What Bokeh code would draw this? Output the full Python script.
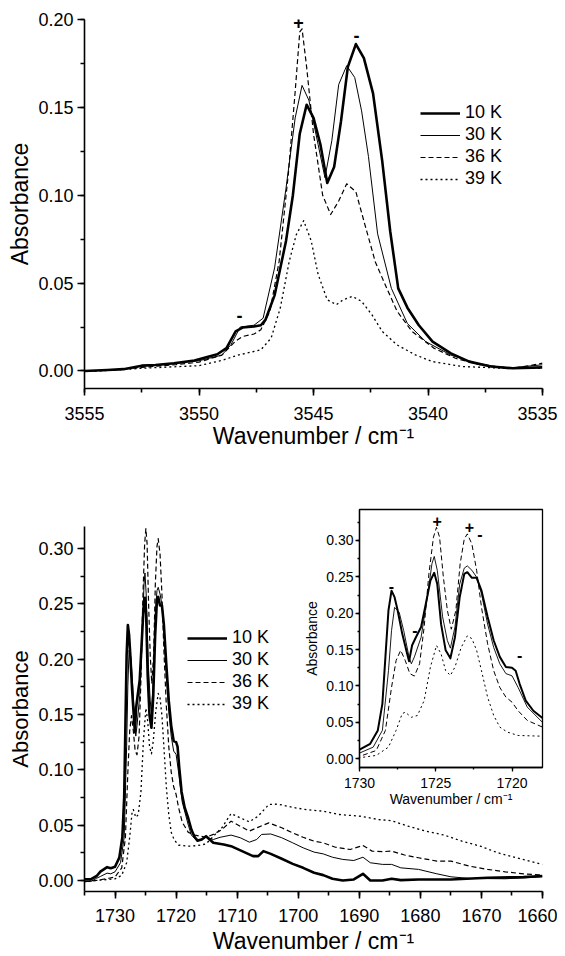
from bokeh.plotting import figure
from bokeh.models import (Range1d, SingleIntervalTicker, PrintfTickFormatter,
                          Legend, LegendItem, ColumnDataSource)
from bokeh.layouts import column
from bokeh.embed import file_html
from bokeh.resources import INLINE
from bokeh.core.properties import value

FONT = "Liberation Sans"

# ---------------- data: O-H stretch region (top panel) ----------------
top_wn_10K = [3555.0, 3554.0, 3553.3, 3552.5, 3551.9, 3551.1, 3550.2, 3549.2, 3548.8, 3548.4,
              3548.1, 3547.6, 3547.3, 3547.1, 3546.7, 3546.2, 3545.9, 3545.6, 3545.3, 3545.0,
              3544.7, 3544.4, 3544.1, 3543.8, 3543.5, 3543.15, 3542.8, 3542.4, 3542.0, 3541.65,
              3541.3, 3540.9, 3540.4, 3539.8, 3539.0, 3538.2, 3537.25, 3536.3, 3535.0]
top_abs_10K = [0.0000, 0.0005, 0.0010, 0.0030, 0.0034, 0.0044, 0.0059, 0.0095, 0.0130, 0.0225,
               0.0247, 0.0253, 0.0260, 0.0290, 0.0430, 0.0740, 0.1000, 0.1350, 0.1515, 0.1440,
               0.1290, 0.1070, 0.1160, 0.1420, 0.1730, 0.1860, 0.1780, 0.1580, 0.1195, 0.0795,
               0.0470, 0.0360, 0.0260, 0.0167, 0.0100, 0.0053, 0.0025, 0.0015, 0.0020]

top_wn_30K = [3555.0, 3554.0, 3553.3, 3552.5, 3551.5, 3550.0, 3549.0, 3548.6, 3548.2, 3547.6,
              3547.2, 3546.7, 3546.2, 3545.8, 3545.5, 3545.2, 3544.8, 3544.5, 3544.2, 3543.9,
              3543.55, 3543.2, 3542.9, 3542.6, 3542.2, 3541.6, 3540.9, 3540.1, 3539.0, 3537.9,
              3536.6, 3535.0]
top_abs_30K = [0.0000, 0.0004, 0.0009, 0.0028, 0.0036, 0.0058, 0.0090, 0.0150, 0.0250, 0.0260,
               0.0300, 0.0586, 0.1040, 0.1440, 0.1625, 0.1540, 0.1290, 0.1100, 0.1310, 0.1630,
               0.1737, 0.1670, 0.1480, 0.1220, 0.0780, 0.0470, 0.0270, 0.0167, 0.0090, 0.0044,
               0.0015, 0.0035]

top_wn_36K = [3555.0, 3554.0, 3552.5, 3551.0, 3550.0, 3549.0, 3548.4, 3548.1, 3547.6, 3547.3,
              3546.9, 3546.5, 3546.1, 3545.8, 3545.6, 3545.5, 3545.3, 3545.0, 3544.6, 3544.25,
              3543.9, 3543.55, 3543.15, 3542.75, 3542.3, 3541.8, 3541.35, 3540.7, 3539.75, 3538.8,
              3537.7, 3536.3, 3535.4, 3535.0]
top_abs_36K = [0.0000, 0.0003, 0.0020, 0.0036, 0.0050, 0.0090, 0.0170, 0.0196, 0.0210, 0.0234,
               0.0340, 0.0624, 0.1120, 0.1590, 0.1930, 0.1947, 0.1730, 0.1350, 0.1000, 0.0890,
               0.0967, 0.1065, 0.1020, 0.0830, 0.0620, 0.0470, 0.0340, 0.0225, 0.0130, 0.0072,
               0.0034, 0.0015, 0.0034, 0.0044]

top_wn_39K = [3555.0, 3554.0, 3552.5, 3551.0, 3550.0, 3549.0, 3548.3, 3547.3, 3546.85, 3546.45,
              3546.06, 3545.75, 3545.43, 3545.1, 3544.8, 3544.4, 3544.0, 3543.7, 3543.3, 3542.9,
              3542.45, 3542.0, 3541.35, 3540.55, 3539.8, 3538.5, 3536.6, 3535.0]
top_abs_39K = [-0.0003, 0.0002, 0.0015, 0.0024, 0.0030, 0.0060, 0.0090, 0.0120, 0.0187, 0.0358,
               0.0624, 0.0776, 0.0855, 0.0740, 0.0550, 0.0405, 0.0377, 0.0405, 0.0424, 0.0396,
               0.0320, 0.0225, 0.0148, 0.0091, 0.0053, 0.0025, 0.0015, 0.0015]

top_mark_wn = [3545.65, 3543.12, 3548.23]
top_mark_abs = [0.1985, 0.1910, 0.0314]
top_mark_text = ["+", "-", "-"]

# ---------------- data: C=O stretch region (bottom panel + inset) ----------------
bot_wn_10K = [1735.0, 1734.0, 1733.0, 1732.4, 1731.3, 1730.7, 1730.0, 1729.3, 1728.8, 1728.5,
              1728.3, 1728.1, 1727.9, 1727.7, 1727.5, 1727.2, 1726.9, 1726.75, 1726.55, 1726.3,
              1725.96, 1725.65, 1725.35, 1725.1, 1724.9, 1724.65, 1724.35, 1724.04, 1723.74, 1723.43,
              1723.13, 1722.93, 1722.63, 1722.32, 1722.0, 1721.6, 1721.2, 1720.8, 1720.4, 1720.0,
              1719.76, 1719.5, 1719.1, 1718.6, 1718.0, 1717.5, 1717.0, 1716.5, 1715.8, 1715.1,
              1714.5, 1713.9, 1712.2, 1711.0, 1709.2, 1707.4, 1706.55, 1705.7, 1704.5, 1702.7,
              1700.9, 1699.2, 1697.4, 1695.9, 1694.4, 1692.7, 1690.9, 1689.4, 1688.2, 1686.2,
              1684.7, 1683.2, 1680.3, 1675.0, 1669.0, 1663.1, 1660.0]
bot_abs_10K = [0.0010, 0.0010, 0.0040, 0.0080, 0.0120, 0.0110, 0.0124, 0.0206, 0.0390, 0.0755,
               0.1400, 0.2040, 0.2310, 0.2220, 0.2040, 0.1720, 0.1465, 0.1340, 0.1560, 0.1670,
               0.1810, 0.2130, 0.2450, 0.2555, 0.2400, 0.1850, 0.1490, 0.1380, 0.1670, 0.2220,
               0.2540, 0.2564, 0.2486, 0.2486, 0.2310, 0.1950, 0.1625, 0.1400, 0.1260, 0.1250,
               0.1210, 0.1030, 0.0800, 0.0660, 0.0560, 0.0460, 0.0395, 0.0360, 0.0370, 0.0400,
               0.0370, 0.0340, 0.0325, 0.0310, 0.0265, 0.0220, 0.0220, 0.0265, 0.0240, 0.0196,
               0.0150, 0.0114, 0.0069, 0.0048, 0.0015, 0.0000, 0.0009, 0.0060, 0.0000, 0.0000,
               0.0015, 0.0003, 0.0009, 0.0009, 0.0024, 0.0030, 0.0040]

bot_wn_30K = [1735.0, 1734.0, 1733.0, 1732.4, 1731.3, 1730.7, 1730.0, 1729.1, 1728.5, 1728.1,
              1727.9, 1727.7, 1727.4, 1727.1, 1726.75, 1726.6, 1726.4, 1725.96, 1725.55, 1725.25,
              1725.1, 1724.9, 1724.55, 1724.24, 1724.04, 1723.74, 1723.43, 1723.13, 1722.93, 1722.63,
              1722.32, 1722.0, 1721.6, 1721.2, 1720.8, 1720.4, 1720.0, 1719.6, 1719.0, 1718.0,
              1717.5, 1716.6, 1715.1, 1713.9, 1712.8, 1711.0, 1709.5, 1708.0, 1706.8, 1706.0,
              1704.5, 1702.7, 1700.9, 1699.2, 1697.4, 1695.9, 1694.4, 1692.7, 1690.9, 1689.4,
              1688.2, 1686.2, 1684.7, 1683.2, 1680.3, 1677.3, 1675.0, 1672.0, 1666.1, 1660.0]
bot_abs_30K = [-0.0010, -0.0010, 0.0020, 0.0036, 0.0066, 0.0060, 0.0078, 0.0160, 0.0390, 0.1210,
               0.1760, 0.2080, 0.2015, 0.1760, 0.1397, 0.1305, 0.1400, 0.1670, 0.2220, 0.2680,
               0.2780, 0.2590, 0.1950, 0.1625, 0.1520, 0.1810, 0.2400, 0.2620, 0.2650, 0.2590,
               0.2495, 0.2266, 0.1850, 0.1530, 0.1305, 0.1170, 0.1140, 0.0980, 0.0710, 0.0500,
               0.0410, 0.0360, 0.0390, 0.0370, 0.0390, 0.0410, 0.0386, 0.0346, 0.0370, 0.0416,
               0.0420, 0.0386, 0.0340, 0.0295, 0.0256, 0.0240, 0.0210, 0.0190, 0.0180, 0.0210,
               0.0160, 0.0145, 0.0145, 0.0114, 0.0100, 0.0060, 0.0033, 0.0018, 0.0015, 0.0033]

bot_wn_36K = [1735.0, 1733.0, 1731.0, 1730.0, 1728.9, 1728.3, 1727.9, 1727.6, 1727.3, 1727.0,
              1726.7, 1726.4, 1726.06, 1725.76, 1725.45, 1725.15, 1724.95, 1724.75, 1724.5, 1724.24,
              1723.98, 1723.68, 1723.4, 1723.13, 1722.93, 1722.63, 1722.32, 1722.0, 1721.6, 1721.2,
              1720.8, 1720.4, 1720.0, 1719.6, 1719.0, 1718.0, 1716.9, 1715.1, 1713.9, 1712.5,
              1711.0, 1709.5, 1708.0, 1706.6, 1704.8, 1702.7, 1700.9, 1699.2, 1697.4, 1695.9,
              1693.9, 1691.5, 1689.4, 1687.9, 1686.2, 1684.7, 1682.6, 1680.3, 1677.3, 1675.0,
              1672.0, 1669.0, 1666.1, 1663.1, 1660.0]
bot_abs_36K = [-0.0010, 0.0000, 0.0020, 0.0032, 0.0114, 0.0390, 0.0980, 0.1350, 0.1490, 0.1350,
               0.1170, 0.1136, 0.1305, 0.1810, 0.2540, 0.3045, 0.3180, 0.3045, 0.2495, 0.2040,
               0.1780, 0.2040, 0.2680, 0.3020, 0.3090, 0.2950, 0.2590, 0.2080, 0.1580, 0.1210,
               0.0980, 0.0847, 0.0778, 0.0660, 0.0527, 0.0435, 0.0410, 0.0390, 0.0416, 0.0460,
               0.0536, 0.0490, 0.0446, 0.0480, 0.0520, 0.0476, 0.0430, 0.0390, 0.0355, 0.0340,
               0.0300, 0.0280, 0.0316, 0.0265, 0.0260, 0.0265, 0.0230, 0.0205, 0.0175, 0.0175,
               0.0130, 0.0100, 0.0078, 0.0060, 0.0048]

bot_wn_39K = [1735.0, 1733.0, 1731.0, 1730.0, 1728.9, 1728.1, 1727.6, 1727.2, 1727.0, 1726.6,
              1726.2, 1725.76, 1725.35, 1724.95, 1724.65, 1724.35, 1724.04, 1723.74, 1723.33, 1722.93,
              1722.63, 1722.32, 1722.0, 1721.6, 1721.2, 1720.8, 1720.3, 1719.6, 1718.0, 1716.5,
              1715.1, 1713.9, 1712.5, 1711.0, 1709.5, 1708.0, 1706.6, 1704.8, 1703.3, 1700.9,
              1698.6, 1695.9, 1693.3, 1689.7, 1686.8, 1684.7, 1682.0, 1679.1, 1676.1, 1673.2,
              1670.2, 1667.3, 1664.3, 1660.0]
bot_abs_39K = [-0.0010, 0.0000, 0.0010, 0.0014, 0.0046, 0.0160, 0.0390, 0.0620, 0.0640, 0.0570,
               0.0595, 0.0800, 0.1260, 0.1557, 0.1440, 0.1210, 0.1145, 0.1260, 0.1530, 0.1690,
               0.1650, 0.1490, 0.1210, 0.0847, 0.0595, 0.0435, 0.0366, 0.0320, 0.0310, 0.0315,
               0.0330, 0.0400, 0.0476, 0.0605, 0.0566, 0.0530, 0.0580, 0.0687, 0.0690, 0.0660,
               0.0640, 0.0626, 0.0596, 0.0580, 0.0550, 0.0540, 0.0490, 0.0446, 0.0410, 0.0355,
               0.0310, 0.0250, 0.0205, 0.0145]

inset_mark_wn = [1727.9, 1726.36, 1724.9, 1722.8, 1722.1, 1719.5]
inset_mark_abs = [0.237, 0.177, 0.327, 0.318, 0.309, 0.142]
inset_mark_text = ["-", "-", "+", "+", "-", "-"]

series_labels = ["10 K", "30 K", "36 K", "39 K"]

top_series = [(top_wn_10K, top_abs_10K), (top_wn_30K, top_abs_30K),
              (top_wn_36K, top_abs_36K), (top_wn_39K, top_abs_39K)]
bot_series = [(bot_wn_10K, bot_abs_10K), (bot_wn_30K, bot_abs_30K),
              (bot_wn_36K, bot_abs_36K), (bot_wn_39K, bot_abs_39K)]

# line styles
main_widths = [2.6, 1.0, 1.2, 1.3]
inset_widths = [2.0, 0.9, 1.0, 1.0]
dashes = ["solid", "solid", "5 3", "2 3"]


def style(p, xint, yint, tick_px, label_px, ylabel_px, tick_out, minor_out,
          xstand, ystand, xlstand, ylstand, lw):
    p.xgrid.visible = False
    p.ygrid.visible = False
    p.xaxis.ticker = SingleIntervalTicker(interval=xint, num_minor_ticks=2)
    p.yaxis.ticker = SingleIntervalTicker(interval=yint, num_minor_ticks=2)
    p.xaxis.formatter = PrintfTickFormatter(format="%d")
    p.yaxis.formatter = PrintfTickFormatter(format="%.2f")
    for ax in (p.xaxis[0], p.yaxis[0]):
        ax.axis_line_width = lw
        ax.axis_line_color = "black"
        ax.major_tick_line_width = lw
        ax.minor_tick_line_width = lw
        ax.major_tick_line_color = "black"
        ax.minor_tick_line_color = "black"
        ax.major_tick_in = 0
        ax.minor_tick_in = 0
        ax.major_tick_out = tick_out
        ax.minor_tick_out = minor_out
        ax.major_label_text_font = FONT
        ax.major_label_text_font_size = tick_px
        ax.major_label_text_color = "black"
        ax.axis_label_text_font = FONT
        ax.axis_label_text_font_style = "normal"
        ax.axis_label_text_color = "black"
    p.xaxis.axis_label_text_font_size = label_px
    p.yaxis.axis_label_text_font_size = ylabel_px
    p.xaxis.major_label_standoff = xstand
    p.yaxis.major_label_standoff = ystand
    p.xaxis.axis_label_standoff = xlstand
    p.yaxis.axis_label_standoff = ylstand


def add_lines(p, series, widths):
    rs = []
    for (wn, ab), w, d in zip(series, widths, dashes):
        src = ColumnDataSource(dict(x=wn, y=ab))
        rs.append(p.line("x", "y", source=src, line_color="black", line_width=w,
                         line_dash=d, line_join="round"))
    return rs


def add_legend(p, rs, loc):
    leg = Legend(items=[LegendItem(label=l, renderers=[r]) for l, r in zip(series_labels, rs)],
                 location=loc, border_line_color=None, background_fill_alpha=0,
                 padding=0, margin=0, spacing=1, glyph_width=40, glyph_height=20,
                 label_height=20, label_standoff=5, label_text_font=FONT,
                 label_text_font_size="18px", label_text_color="black")
    p.add_layout(leg)


# ---------------- top panel ----------------
top = figure(width=557, height=460, x_range=Range1d(3555, 3535), y_range=Range1d(-0.01, 0.20),
             output_backend="svg", toolbar_location=None,
             min_border_left=83, min_border_right=15, min_border_top=19, min_border_bottom=72,
             x_axis_label="Wavenumber / cm\u207b\u00b9", y_axis_label="Absorbance")
top.outline_line_color = None
style(top, 5, 0.05, "18px", "23px", "23px", 7, 4, 11, 4, 0, 2, 1.6)
rt = add_lines(top, top_series, main_widths)
add_legend(top, rt, (336, 199))
top.text(x=top_mark_wn, y=top_mark_abs, text=top_mark_text, text_font=value(FONT),
         text_font_style="bold", text_font_size="18px", text_align="center",
         text_baseline="middle", text_color="black")

# ---------------- bottom panel ----------------
bot = figure(width=557, height=496, x_range=Range1d(1735, 1660), y_range=Range1d(-0.01, 0.32),
             output_backend="svg", toolbar_location=None,
             min_border_left=84, min_border_right=15, min_border_top=66, min_border_bottom=63,
             x_axis_label="Wavenumber / cm\u207b\u00b9", y_axis_label="Absorbance")
bot.outline_line_color = None
style(bot, 10, 0.05, "18px", "23px", "22px", 7, 4, 10, 4, 3, 2, 1.6)
rb = add_lines(bot, bot_series, main_widths)
add_legend(bot, rb, (103, 177))

# ---------------- inset ----------------
ins = figure(width=282, height=309, x_range=Range1d(1730, 1718), y_range=Range1d(-0.012, 0.3425),
             output_backend="svg", toolbar_location=None,
             min_border_left=80, min_border_right=4, min_border_top=1, min_border_bottom=50,
             x_axis_label="Wavenumber / cm\u207b\u00b9", y_axis_label="Absorbance")
ins.outline_line_color = "black"
ins.outline_line_width = 1.3
ins.border_fill_color = None
ins.background_fill_color = "white"
style(ins, 5, 0.05, "14px", "14px", "14px", 4, 2, 6, 2, 0, 3, 1.3)
add_lines(ins, bot_series, inset_widths)
ins.text(x=inset_mark_wn, y=inset_mark_abs, text=inset_mark_text, text_font=value(FONT),
         text_font_style="bold", text_font_size="16px", text_align="center",
         text_baseline="middle", text_color="black")
ins.margin = (-448, 0, 139, 275)

layout = column(top, bot, ins)
open("out.html", "w").write(file_html(layout, INLINE))
